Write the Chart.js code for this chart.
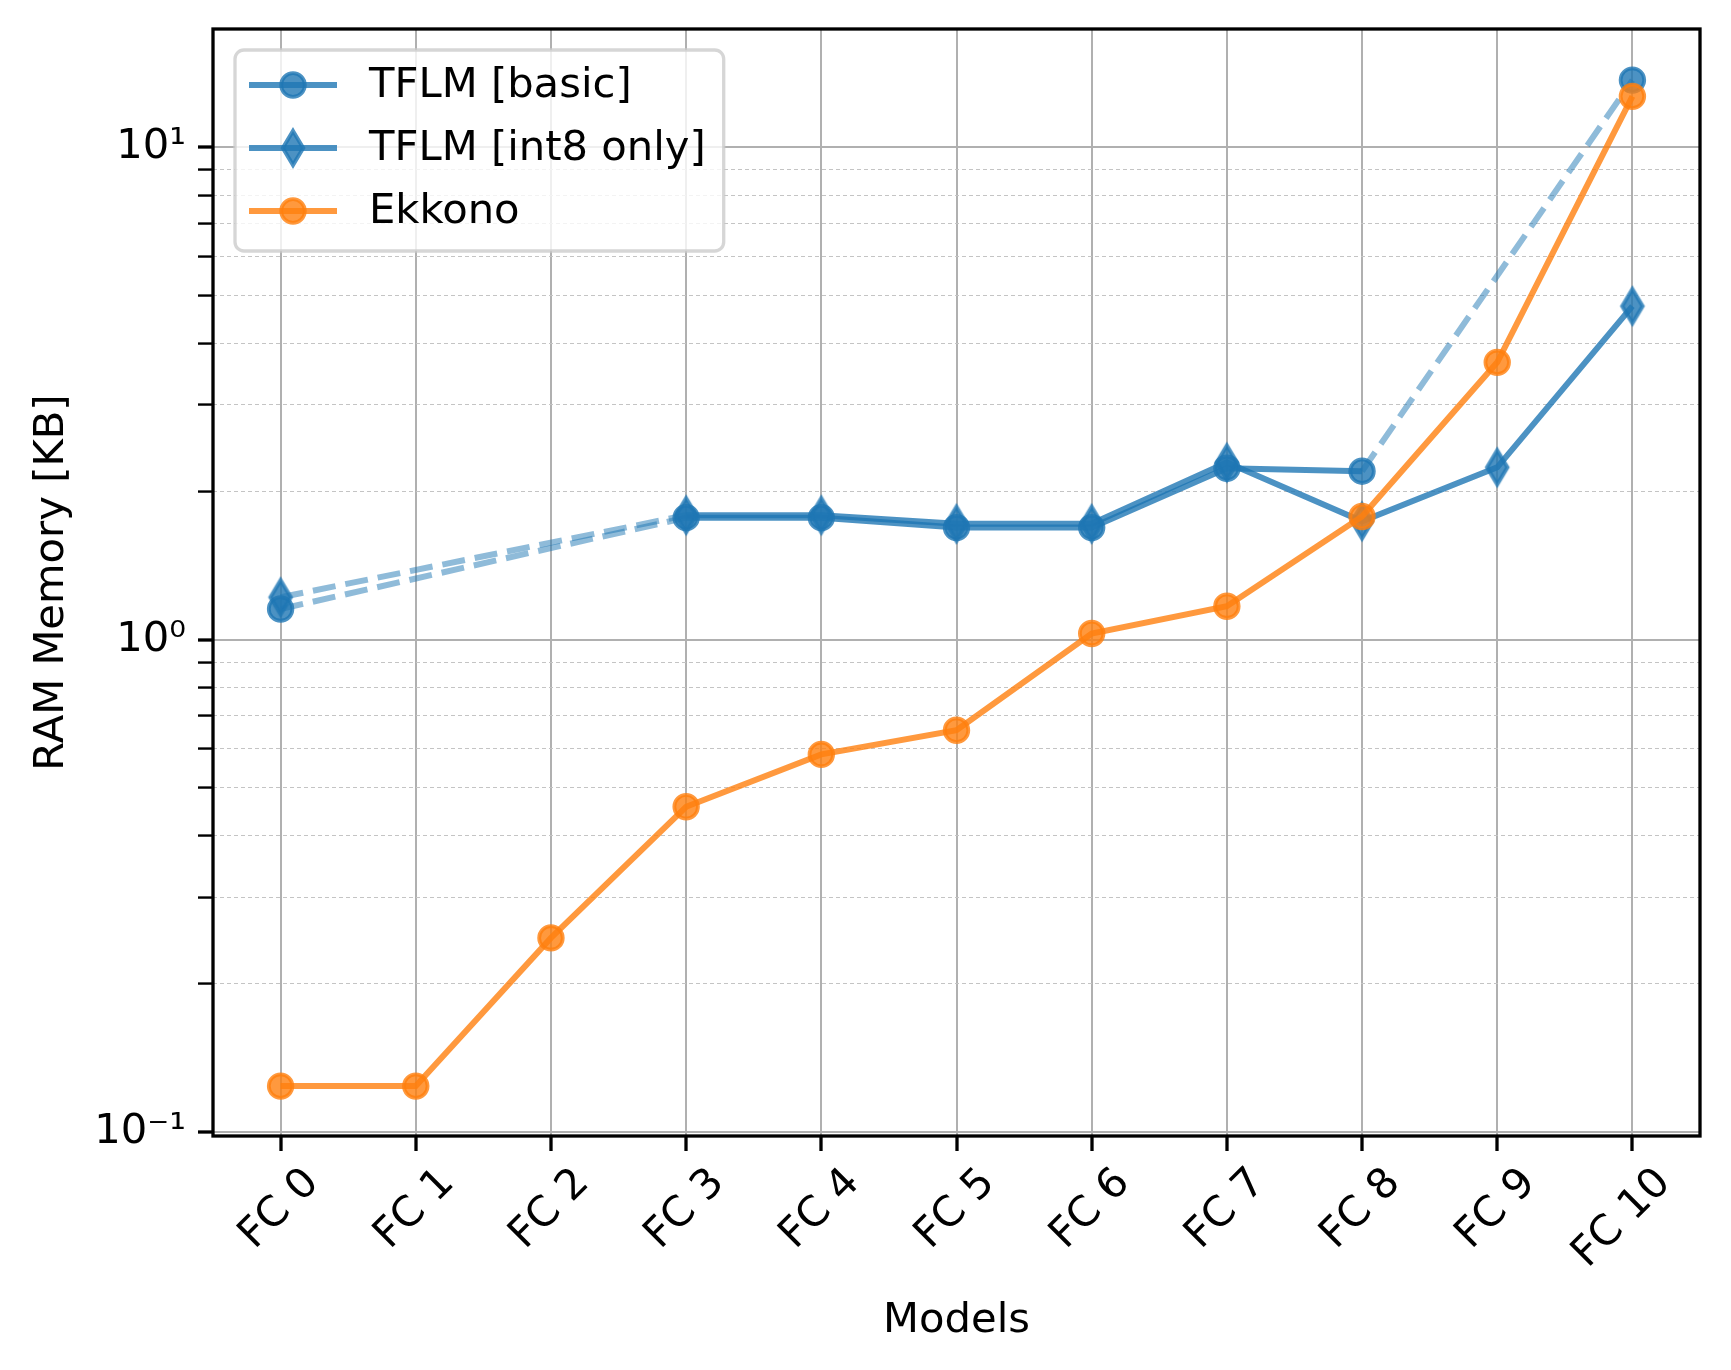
<!DOCTYPE html>
<html lang="en">
<head>
  <meta charset="UTF-8" />
  <title>RAM Memory per model</title>
  <script src="https://cdn.jsdelivr.net/npm/chart.js"></script>
  <style>
    html, body {
      margin: 0;
      padding: 0;
      background: #fff;
    }
    #wrap {
      width: 1731px;
      height: 1370px;
    }
  </style>
</head>
<body>
  <div id="wrap"><canvas id="ramChart" width="1731" height="1370"></canvas></div>

  <script>
    // values (KB, log axis)
    const models = ['FC 0', 'FC 1', 'FC 2', 'FC 3', 'FC 4', 'FC 5', 'FC 6', 'FC 7', 'FC 8', 'FC 9', 'FC 10'];
    const tflmBasic = [1.155, null, null, 1.77, 1.77, 1.69, 1.69, 2.23, 2.20, null, 13.7];
    const tflmInt8 = [1.22, null, null, 1.79, 1.79, 1.72, 1.72, 2.29, 1.74, 2.24, 4.76];
    const ekkono = [0.124, 0.124, 0.248, 0.458, 0.585, 0.655, 1.03, 1.17, 1.78, 3.66, 12.7];

    const yMin = 0.0982;
    const yMax = 17.4;
    const yTicks = [0.1, 0.2, 0.3, 0.4, 0.5, 0.6, 0.7, 0.8, 0.9,
                    1, 2, 3, 4, 5, 6, 7, 8, 9, 10];
    const yTickLabels = { 0.1: '10⁻¹', 1: '10⁰', 10: '10¹' };

    const FONT = '"DejaVu Sans", "Liberation Sans", sans-serif';
    const FS = 41.7;
    Chart.defaults.font.family = FONT;
    Chart.defaults.font.size = FS;
    Chart.defaults.color = '#000';

    const blue = 'rgba(31,119,180,0.8)';
    const blueGap = 'rgba(31,119,180,0.5)';
    const orange = 'rgba(255,127,14,0.8)';

    // matplotlib style thin diamond ('d')
    function thinDiamond(color) {
      const c = document.createElement('canvas');
      c.width = 30;
      c.height = 48;
      const g = c.getContext('2d');
      const cx = 15, cy = 24, hh = 17, hw = 10.2;
      g.beginPath();
      g.moveTo(cx, cy - hh);
      g.lineTo(cx + hw, cy);
      g.lineTo(cx, cy + hh);
      g.lineTo(cx - hw, cy);
      g.closePath();
      g.fillStyle = color;
      g.fill();
      g.lineWidth = 4;
      g.lineJoin = 'miter';
      g.strokeStyle = color;
      g.stroke();
      return c;
    }
    const diamond = thinDiamond(blue);

    const isGap = ctx => ctx.p0.skip || ctx.p1.skip;
    const gapSegment = {
      borderDash: ctx => isGap(ctx) ? [23, 10] : undefined,
      borderColor: ctx => isGap(ctx) ? blueGap : undefined
    };

    const isMajor = v => v === 0.1 || v === 1 || v === 10;

    // frame + matplotlib-like legend box
    const frameAndLegend = {
      id: 'frameAndLegend',
      afterDatasetsDraw(chart) {
        const { ctx, chartArea: a } = chart;
        ctx.save();
        ctx.strokeStyle = '#000';
        ctx.lineWidth = 3.3;
        ctx.strokeRect(a.left, a.top, a.right - a.left, a.bottom - a.top);

        ctx.font = FS + 'px ' + FONT;
        const sets = chart.data.datasets;
        const textW = Math.max(...sets.map(d => ctx.measureText(d.label).width));
        const x = a.left + 22, y = a.top + 21, rowH = 63;
        const w = 134 + textW + 18, h = 201;
        ctx.beginPath();
        ctx.roundRect(x, y, w, h, 9);
        ctx.fillStyle = 'rgba(255,255,255,0.8)';
        ctx.fill();
        ctx.strokeStyle = 'rgba(204,204,204,0.8)';
        ctx.lineWidth = 3.3;
        ctx.stroke();

        sets.forEach((d, i) => {
          const cy = y + 35 + i * rowH;
          ctx.beginPath();
          ctx.moveTo(x + 14, cy);
          ctx.lineTo(x + 102, cy);
          ctx.strokeStyle = d.borderColor;
          ctx.lineWidth = d.borderWidth;
          ctx.setLineDash([]);
          ctx.stroke();
          const mx = x + 58;
          if (typeof d.pointStyle === 'object') {
            ctx.drawImage(d.pointStyle, mx - d.pointStyle.width / 2, cy - d.pointStyle.height / 2);
          } else {
            ctx.beginPath();
            ctx.arc(mx, cy, d.pointRadius, 0, Math.PI * 2);
            ctx.fillStyle = d.pointBackgroundColor;
            ctx.fill();
            ctx.lineWidth = d.pointBorderWidth;
            ctx.strokeStyle = d.pointBorderColor;
            ctx.stroke();
          }
          ctx.fillStyle = '#000';
          ctx.textBaseline = 'middle';
          ctx.textAlign = 'left';
          ctx.fillText(d.label, x + 134, cy + 1);
        });
        ctx.restore();
      }
    };

    const common = {
      borderWidth: 6,
      pointRadius: 11.8,
      pointHoverRadius: 11.8,
      pointBorderWidth: 3.8,
      spanGaps: true,
      tension: 0
    };

    new Chart(document.getElementById('ramChart'), {
      type: 'line',
      data: {
        labels: models,
        datasets: [
          Object.assign({}, common, {
            label: 'TFLM [basic]',
            data: tflmBasic,
            borderColor: blue,
            backgroundColor: blue,
            pointBackgroundColor: blue,
            pointBorderColor: blue,
            pointStyle: 'circle',
            segment: gapSegment,
            order: 3
          }),
          Object.assign({}, common, {
            label: 'TFLM [int8 only]',
            data: tflmInt8,
            borderColor: blue,
            backgroundColor: blue,
            pointBackgroundColor: blue,
            pointBorderColor: blue,
            pointStyle: diamond,
            segment: gapSegment,
            order: 2
          }),
          Object.assign({}, common, {
            label: 'Ekkono',
            data: ekkono,
            borderColor: orange,
            backgroundColor: orange,
            pointBackgroundColor: orange,
            pointBorderColor: orange,
            pointStyle: 'circle',
            order: 1
          })
        ]
      },
      options: {
        responsive: false,
        animation: false,
        devicePixelRatio: 1,
        layout: { padding: { top: 29, right: 31, left: 0, bottom: 0 } },
        plugins: {
          legend: { display: false },
          tooltip: { enabled: false }
        },
        scales: {
          x: {
            type: 'category',
            offset: true,
            grid: {
              offset: false,
              color: '#b0b0b0',
              lineWidth: 2,
              tickColor: '#000',
              tickWidth: 3.3,
              tickLength: 15
            },
            border: { display: false },
            ticks: {
              color: '#000',
              autoSkip: false,
              maxRotation: 45,
              minRotation: 45,
              padding: 8,
              labelOffset: 32
            },
            title: {
              display: true,
              text: 'Models',
              color: '#000',
              padding: { top: 0, bottom: 24 }
            },
            afterFit(s) {
              s.height = 234;
              s.paddingLeft = 0;
              s.paddingRight = 0;
            }
          },
          y: {
            type: 'logarithmic',
            min: yMin,
            max: yMax,
            afterBuildTicks(s) {
              s.ticks = yTicks.map(v => ({ value: v, major: isMajor(v) }));
            },
            grid: {
              color: ctx => ctx.tick && isMajor(ctx.tick.value) ? '#b0b0b0' : '#c4c4c4',
              lineWidth: ctx => ctx.tick && isMajor(ctx.tick.value) ? 2 : 1.1,
              tickColor: '#000',
              tickWidth: ctx => ctx.tick && isMajor(ctx.tick.value) ? 3.3 : 2.4,
              tickLength: 15,
              tickBorderDash: []
            },
            border: {
              display: false,
              dash: ctx => ctx.tick && !isMajor(ctx.tick.value) ? [4, 3] : []
            },
            ticks: {
              color: '#000',
              autoSkip: false,
              padding: 12,
              callback: v => yTickLabels[v] || ''
            },
            title: {
              display: true,
              text: 'RAM Memory [KB]',
              color: '#000',
              padding: { top: 27, bottom: 0 }
            },
            afterFit(s) {
              s.width = 213;
              s.paddingTop = 0;
              s.paddingBottom = 0;
            }
          }
        }
      },
      plugins: [frameAndLegend]
    });
  </script>
</body>
</html>
